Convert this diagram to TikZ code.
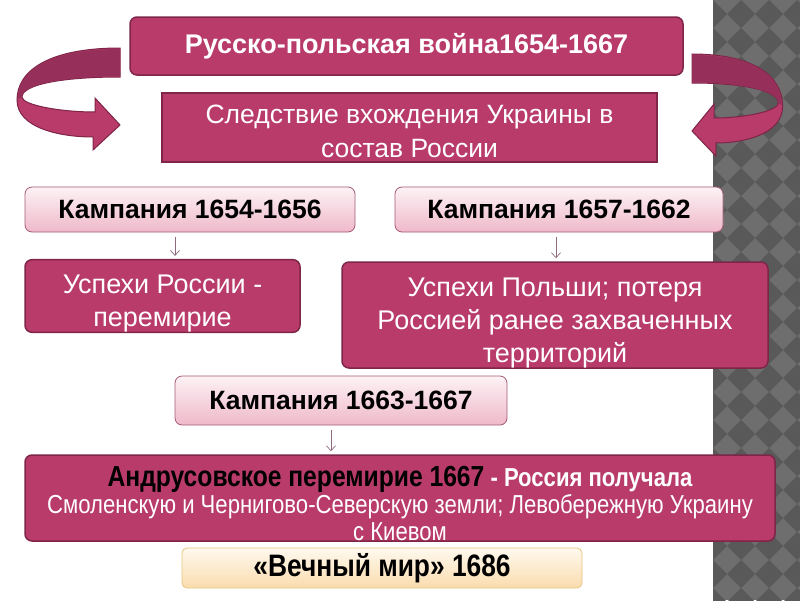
\documentclass[tikz,border=0pt]{standalone}
\usepackage{fontspec}
\setmainfont{Liberation Sans}
\newfontfamily\narrowfont[FakeStretch=0.85]{Liberation Sans}
\usepackage{tikz}
\usetikzlibrary{arrows.meta}
\usetikzlibrary{positioning}

\definecolor{berry}{HTML}{B83B6A}
\definecolor{berrydark}{HTML}{7E2548}
\definecolor{berryback}{HTML}{96305A}
\definecolor{pinktop}{HTML}{FDF2F5}
\definecolor{pinkbot}{HTML}{EFB9CA}
\definecolor{pinkline}{HTML}{A45A76}
\definecolor{creamtop}{HTML}{FFF9EE}
\definecolor{creambot}{HTML}{FADCAE}
\definecolor{creamline}{HTML}{E6C57F}
\definecolor{linkcol}{HTML}{8C6A7C}
\definecolor{stripgray}{HTML}{6E6E6E}
\definecolor{stripdark}{HTML}{595959}

% a tall strut on the first line pushes the text block down
\newcommand{\roof}[1]{\rule{0pt}{#1}}

\tikzset{
  mainbox/.style={draw=berrydark, line width=1.5pt, fill=berry, rounded corners=7pt,
    text=white, align=center, inner sep=0pt},
  campbox/.style={draw=pinkline, line width=0.8pt, top color=pinktop, bottom color=pinkbot,
    rounded corners=7pt, align=center, inner sep=0pt,
    font=\bfseries\fontsize{26.5}{30}\selectfont},
  link/.style={draw=linkcol, line width=0.7pt, -{Straight Barb[length=5pt,width=9pt]},
    shorten <=5pt, shorten >=3pt},
  bentarrow/.style={fill=berry, draw=berrydark, line width=1pt}
}

\begin{document}
\begin{tikzpicture}[x=1pt,y=-1pt]
  \useasboundingbox (0,0) rectangle (800,600);

  % checkered strip on the right
  \begin{scope}
    \clip (713,0) rectangle (800,600);
    \fill[stripgray] (713,0) rectangle (800,600);
    \foreach \i in {0,...,4}
      \foreach \j in {-1,...,22} {
        \fill[stripdark] ({713+28*\i},{28*\j}) -- ++(14,14) -- ++(-14,14) -- ++(-14,-14) -- cycle;
      }
  \end{scope}

  % curved arrows
  \begin{scope}[shift={(120,0)}]
    \draw[bentarrow] (0,48) .. controls (-70,48) and (-103,70) .. (-103,100)
      .. controls (-103,128) and (-60,137) .. (-27,137) -- (-27,150) -- (0,125)
      -- (-25,98) -- (-25,112) .. controls (-60,112) and (-98,105) .. (-98,97)
      .. controls (-98,85) and (-60,77) .. (0,77) -- cycle;
    \fill[berryback] (0,49) .. controls (-70,49) and (-102,70) .. (-102,99)
      -- (-98,97) .. controls (-98,85) and (-60,77) .. (0,76) -- cycle;
  \end{scope}
  \begin{scope}[shift={(692,6)}, xscale=-0.88]
    \draw[bentarrow] (0,48) .. controls (-70,48) and (-103,70) .. (-103,100)
      .. controls (-103,128) and (-60,137) .. (-27,137) -- (-27,150) -- (0,125)
      -- (-25,98) -- (-25,112) .. controls (-60,112) and (-98,105) .. (-98,97)
      .. controls (-98,85) and (-60,77) .. (0,77) -- cycle;
    \fill[berryback] (0,49) .. controls (-70,49) and (-102,70) .. (-102,99)
      -- (-98,97) .. controls (-98,85) and (-60,77) .. (0,76) -- cycle;
  \end{scope}

  % boxes
  \node[mainbox, minimum width=553, minimum height=58,
    font=\bfseries\fontsize{27}{30}\selectfont] (war) at (406.5,46) {Русско-польская война1654-1667};
  \node[mainbox, rounded corners=0pt, minimum width=495, minimum height=69,
    font=\fontsize{26.5}{34}\selectfont] (cause) at (409.5,127.5)
    {\roof{26pt}Следствие вхождения Украины в\\состав России};

  \node[campbox, minimum width=330, minimum height=45] (camp1) at (190,209.5) {Кампания 1654-1656};
  \node[campbox, minimum width=328, minimum height=45] (camp2) at (559,209.5) {Кампания 1657-1662};

  \node[mainbox, minimum width=275, minimum height=68,
    font=\fontsize{27}{33}\selectfont] (win1) at (162.5,296) {\roof{34pt}Успехи России -\\перемирие};
  \node[mainbox, minimum width=426, minimum height=106,
    font=\fontsize{27}{33}\selectfont] (win2) at (555,315)
    {\roof{34pt}Успехи Польши; потеря\\Россией ранее захваченных\\территорий};

  \node[campbox, minimum width=332, minimum height=49] (camp3) at (341,400.5) {Кампания 1663-1667};

  \node[mainbox, minimum width=750, minimum height=86,
    font=\narrowfont\fontsize{26}{27}\selectfont] (truce) at (400,498)
    {\roof{31pt}{\bfseries\fontsize{29}{28}\selectfont\color{black}Андрусовское перемирие 1667}
     {\bfseries\fontsize{26}{28}\selectfont - Россия получала}\\
     Смоленскую и Чернигово-Северскую земли; Левобережную Украину\\с Киевом};

  \node[draw=creamline, line width=0.8pt, top color=creamtop, bottom color=creambot,
    rounded corners=5pt, minimum width=400, minimum height=40, inner sep=0pt,
    font=\narrowfont\bfseries\fontsize{31}{34}\selectfont] (peace) at (382,568) {«Вечный мир» 1686};

  % links
  \draw[link] ([xshift=-15pt]camp1.south) -- ([xshift=-15pt]camp1.south |- win1.north);
  \draw[link] ([xshift=-3pt]camp2.south) -- ([xshift=-3pt]camp2.south |- win2.north);
  \draw[link] ([xshift=-10pt]camp3.south) -- ([xshift=-10pt]camp3.south |- truce.north);
\end{tikzpicture}
\end{document}
